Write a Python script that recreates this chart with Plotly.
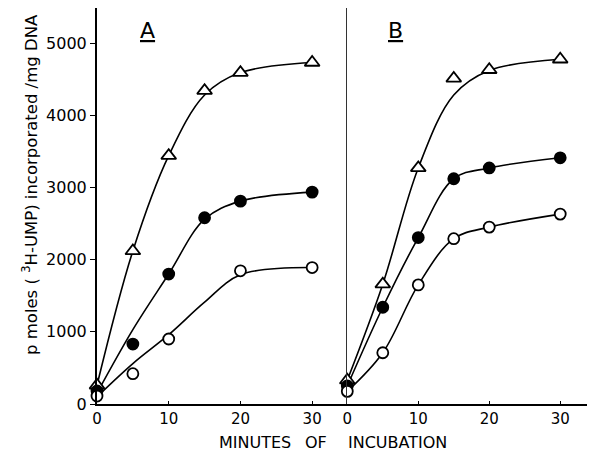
import plotly.graph_objects as go

minutes = [0, 5, 10, 15, 20, 30]

# Panel A measured points
a_triangle = [260, 2120, 3440, 4340, 4590, 4730]
a_filled = [180, 830, 1800, 2580, 2810, 2935]
a_open = [110, 420, 900, None, 1845, 1890]

# Panel B measured points
b_triangle = [330, 1660, 3270, 4510, 4630, 4775]
b_filled = [250, 1340, 2305, 3120, 3270, 3410]
b_open = [175, 710, 1650, 2290, 2450, 2630]

# Hand-drawn fitted curves (minutes, value)
a_triangle_curve_x = [0, 5, 10, 15, 20, 30]
a_triangle_curve_y = [260, 2120, 3440, 4280, 4590, 4730]
a_filled_curve_x = [0, 5, 10, 15, 20, 30]
a_filled_curve_y = [150, 1030, 1800, 2560, 2810, 2935]
a_open_curve_x = [0, 5, 10, 15, 20, 30]
a_open_curve_y = [100, 560, 960, 1410, 1790, 1890]
b_triangle_curve_x = [0, 5, 10, 15, 20, 30]
b_triangle_curve_y = [330, 1660, 3270, 4280, 4620, 4775]
b_filled_curve_x = [0, 5, 10, 15, 20, 30]
b_filled_curve_y = [250, 1340, 2305, 3120, 3270, 3410]
b_open_curve_x = [0, 5, 10, 15, 20, 30]
b_open_curve_y = [175, 710, 1650, 2290, 2450, 2630]

x_ticks = [0, 10, 20, 30]
y_ticks = [0, 1000, 2000, 3000, 4000, 5000]

FONT = "DejaVu Sans"
fig = go.Figure()

def add_curve(cx, cy, xa, ya):
    fig.add_trace(go.Scatter(
        x=cx, y=cy, xaxis=xa, yaxis=ya, mode="lines",
        line=dict(color="black", width=1.6, shape="spline", smoothing=1.0),
        showlegend=False, hoverinfo="skip"))

def add_points(y, xa, ya, symbol, fill):
    fig.add_trace(go.Scatter(
        x=minutes, y=y, xaxis=xa, yaxis=ya, mode="markers",
        marker=dict(symbol=symbol, size=13 if "triangle" in symbol else 11,
                    color="black" if fill else "white",
                    line=dict(color="black", width=1.8)),
        showlegend=False, cliponaxis=False))

add_curve(a_triangle_curve_x, a_triangle_curve_y, "x", "y")
add_curve(a_filled_curve_x, a_filled_curve_y, "x", "y")
add_curve(a_open_curve_x, a_open_curve_y, "x", "y")
add_curve(b_triangle_curve_x, b_triangle_curve_y, "x2", "y2")
add_curve(b_filled_curve_x, b_filled_curve_y, "x2", "y2")
add_curve(b_open_curve_x, b_open_curve_y, "x2", "y2")

for y, sym, fill in [(a_triangle, "triangle-up", False), (a_filled, "circle", True), (a_open, "circle", False)]:
    add_points(y, "x", "y", sym, fill)
for y, sym, fill in [(b_triangle, "triangle-up", False), (b_filled, "circle", True), (b_open, "circle", False)]:
    add_points(y, "x2", "y2", sym, fill)

# The page body adds an 8px offset; the figure is sized so it ends at the window edge.
d = 0.5026
yr = [0, 5485]
common_x = dict(tickvals=x_ticks, ticktext=[str(v) for v in x_ticks],
                showline=True, linecolor="black", linewidth=2, mirror=True,
                ticks="inside", ticklen=3, tickcolor="black", showgrid=False,
                zeroline=False, automargin=False,
                tickfont=dict(family=FONT, size=15, color="black"))
fig.update_layout(
    width=587, height=445,
    margin=dict(l=89, r=0, t=0, b=49, pad=0, autoexpand=False),
    paper_bgcolor="white", plot_bgcolor="white",
    xaxis=dict(domain=[0, d], anchor="y", range=[0, 34.9], **common_x),
    xaxis2=dict(domain=[d, 1], anchor="y2", range=[0, 34.9], **common_x),
    yaxis=dict(domain=[0, 1], range=yr, tickvals=y_ticks, anchor="x",
               showline=True, linecolor="black", linewidth=2,
               ticks="outside", ticklen=5, tickcolor="black", showgrid=False,
               zeroline=False, automargin=False,
               tickfont=dict(family=FONT, size=16, color="black")),
    yaxis2=dict(domain=[0, 1], range=yr, anchor="x2", showticklabels=False,
                showline=True, linecolor="#333", linewidth=1, ticks="",
                showgrid=False, zeroline=False, automargin=False),
)

# window pixel -> paper coordinates (plot area spans window x 97..595, y 8..404)
def px_x(px):
    return (px - 97) / 498

def px_y(py):
    return (404 - py) / 396

def note(text, px, py, size, angle=0):
    fig.add_annotation(text=text, xref="paper", yref="paper", x=px_x(px), y=px_y(py),
                       xanchor="center", yanchor="middle", textangle=angle,
                       showarrow=False, font=dict(family=FONT, size=size, color="black"))

note("p moles ( <sup>3</sup>H-UMP) incorporated /mg DNA", 30, 185, 16.5, -90)
for word, px in [("MINUTES", 255), ("OF", 315.5), ("INCUBATION", 397)]:
    note(word, px, 442, 16)
note("<u>A</u>", 147, 31, 22)
note("<u>B</u>", 395, 31, 22)

fig.write_html("out.html")
